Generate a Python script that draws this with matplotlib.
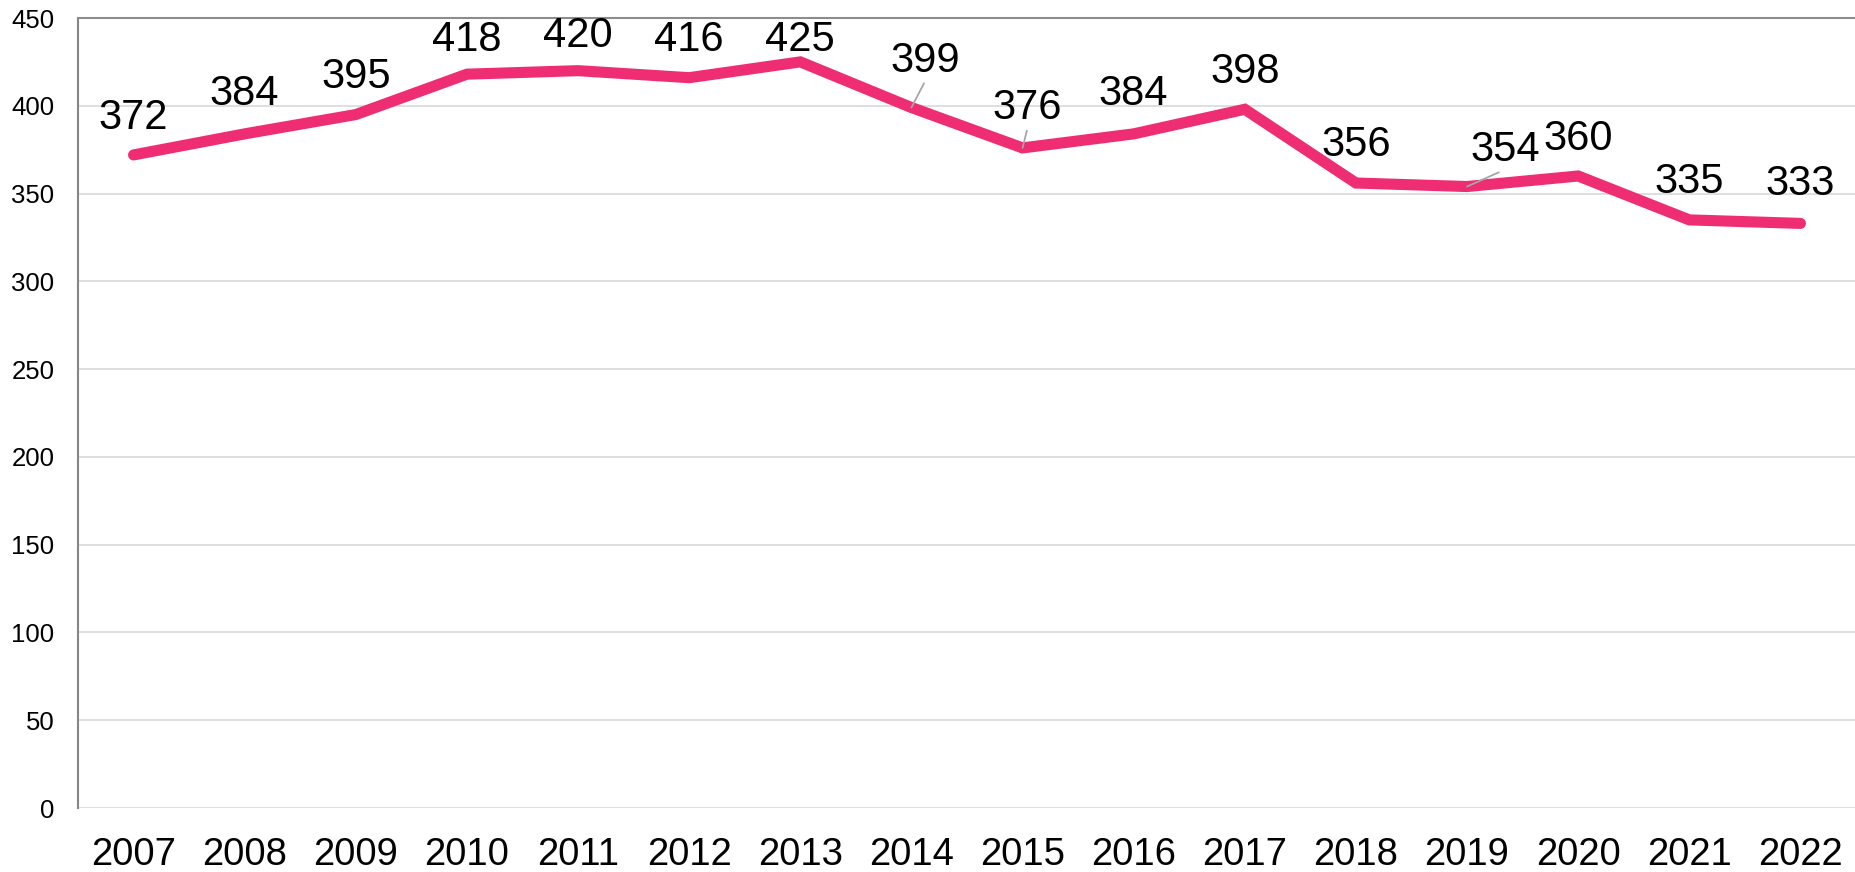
import matplotlib
matplotlib.use("Agg")
import matplotlib.pyplot as plt

plt.rcParams['font.family'] = ['Liberation Sans', 'DejaVu Sans']

years = ['2007', '2008', '2009', '2010', '2011', '2012', '2013', '2014',
         '2015', '2016', '2017', '2018', '2019', '2020', '2021', '2022']
values = [372, 384, 395, 418, 420, 416, 425, 399,
          376, 384, 398, 356, 354, 360, 335, 333]
y_ticks = [0, 50, 100, 150, 200, 250, 300, 350, 400, 450]

# label offsets in pixels (x, y up) from each point, as placed in the original
label_offsets = [(0, 37), (0, 40), (0, 38), (0, 34), (0, 35), (0, 38), (0, 22), (14, 47),
                 (5, 40), (0, 40), (0, 37), (0, 38), (38, 37), (0, 37), (0, 38), (0, 39)]
leaders = {'2014', '2015', '2019'}

fig = plt.figure(figsize=(18.56, 8.72), dpi=100)
ax = fig.add_axes([78 / 1856, 1 - 808 / 872, 1 - 78 / 1856, (808 - 18) / 872])

x = list(range(len(years)))
ax.plot(x, values, color='#EE2D72', lw=8, solid_capstyle='round',
        solid_joinstyle='miter', zorder=3)

for i, (yr, v) in enumerate(zip(years, values)):
    dx, dy = label_offsets[i]
    props = None
    if yr in leaders:
        props = dict(arrowstyle='-', color='#A6A6A6', lw=1.3, shrinkA=0, shrinkB=0,
                     relpos=(0.5, 0))
    ax.annotate(str(v), xy=(i, v), xytext=(dx, dy), textcoords='offset pixels',
                ha='center', va='center', fontsize=30, color='black',
                arrowprops=props, zorder=4, annotation_clip=False)

ax.set_xlim(-0.5, len(years) - 0.5)
ax.set_ylim(0, 450)
ax.set_yticks(y_ticks)
ax.set_xticks(x)
ax.set_xticklabels(years)
ax.tick_params(axis='y', length=0, pad=17, labelsize=18.5)
ax.tick_params(axis='x', length=0, pad=21, labelsize=27.5)
ax.yaxis.grid(True, color='#D9D9D9', lw=1.2)
ax.set_axisbelow(True)

for s in ['right', 'bottom']:
    ax.spines[s].set_visible(False)
ax.spines['left'].set_color('#868686')
ax.spines['left'].set_linewidth(1.5)
ax.spines['top'].set_color('#8C8C8C')
ax.spines['top'].set_linewidth(1.5)

fig.savefig('out.png', dpi=100)
